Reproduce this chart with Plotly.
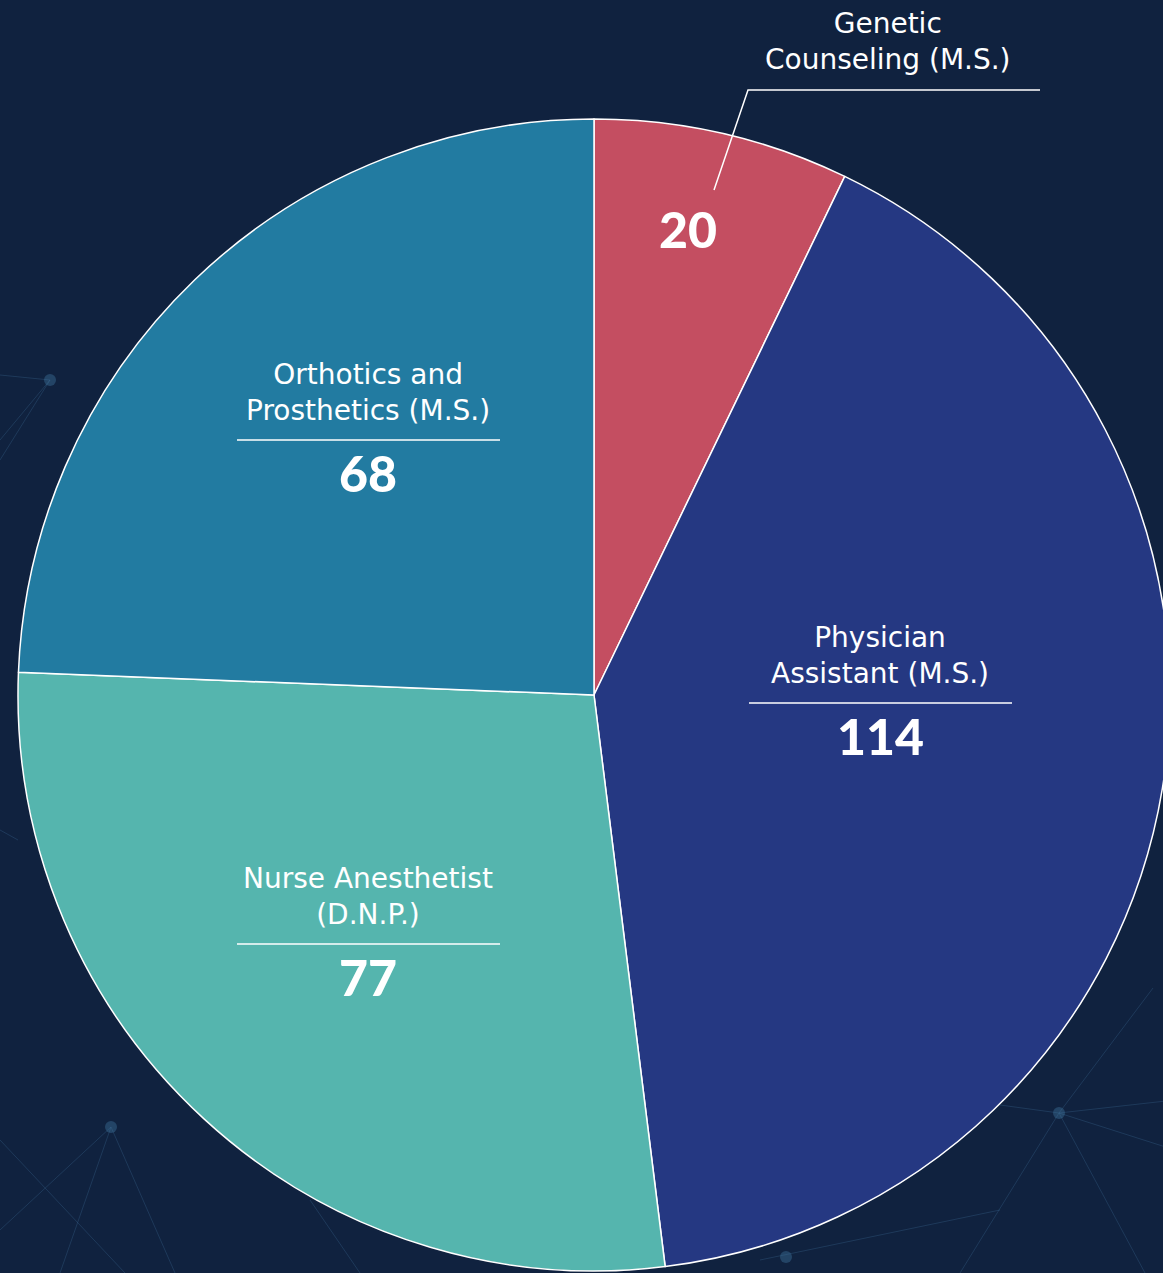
import plotly.graph_objects as go

# ---- data ----
programs = ["Genetic Counseling (M.S.)", "Physician Assistant (M.S.)",
            "Nurse Anesthetist (D.N.P.)", "Orthotics and Prosthetics (M.S.)"]
label_lines = ["Genetic<br>Counseling (M.S.)", "Physician<br>Assistant (M.S.)",
               "Nurse Anesthetist<br>(D.N.P.)", "Orthotics and<br>Prosthetics (M.S.)"]
enrollment = [20, 114, 77, 68]
colors = ["#c44e61", "#253882", "#55b5ae", "#227ba1"]

W, H = 1175, 1273
BG = "#10223f"


def px(x):
    return x / W


def py(y):
    return 1 - y / H


cx, cy, R = 594, 695, 576

fig = go.Figure(go.Pie(
    labels=programs,
    values=enrollment,
    sort=False,
    direction="clockwise",
    rotation=0,
    marker=dict(colors=colors, line=dict(color="white", width=1.5)),
    textinfo="none",
    hoverinfo="label+value",
    showlegend=False,
    domain=dict(x=[px(cx - R), px(cx + R)], y=[py(cy + R), py(cy - R)]),
))

label_font = dict(family="DejaVu Sans, Verdana, sans-serif", size=28, color="white")
num_font = dict(family="Lato, Roboto, sans-serif", size=50, color="white", weight=900)

annotations = []
shapes = []

# faint background network decoration
net_col = "rgba(70,120,160,0.28)"
net_segments = [
    ((1059, 1113), (1153, 988)), ((1059, 1113), (1175, 1100)), ((1059, 1113), (1175, 1150)),
    ((1059, 1113), (960, 1273)), ((1059, 1113), (1145, 1273)), ((1059, 1113), (1000, 1105)),
    ((111, 1127), (60, 1273)), ((111, 1127), (175, 1273)), ((111, 1127), (0, 1230)),
    ((0, 1140), (125, 1273)), ((50, 380), (0, 375)), ((50, 380), (0, 440)), ((50, 380), (0, 460)),
    ((0, 830), (18, 840)), ((310, 1200), (360, 1273)), ((760, 1260), (1000, 1210)),
]
for (x0, y0), (x1, y1) in net_segments:
    shapes.append(dict(type="line", xref="paper", yref="paper", layer="below",
                       x0=px(x0), y0=py(y0), x1=px(x1), y1=py(y1), line=dict(color=net_col, width=1)))
for (nx, ny) in [(1059, 1113), (111, 1127), (50, 380), (786, 1257)]:
    shapes.append(dict(type="circle", xref="paper", yref="paper", layer="below",
                       x0=px(nx - 6), x1=px(nx + 6), y0=py(ny + 6), y1=py(ny - 6),
                       fillcolor="rgba(60,110,150,0.45)", line=dict(width=0)))

# label layout (text centre x, text centre y, separator y, number y)
label_pos = [None, (880, 655, 703, 736), (368, 896, 944, 977), (368, 393, 440, 473)]

for i, pos in enumerate(label_pos):
    if pos is None:
        continue
    x, ty, sy, ny = pos
    annotations.append(dict(x=px(x), y=py(ty), xref="paper", yref="paper", text=label_lines[i],
                            showarrow=False, font=label_font, xanchor="center", yanchor="middle", align="center"))
    shapes.append(dict(type="line", xref="paper", yref="paper", x0=px(x - 131), x1=px(x + 132),
                       y0=py(sy), y1=py(sy), line=dict(color="white", width=1.5)))
    annotations.append(dict(x=px(x), y=py(ny), xref="paper", yref="paper", text=str(enrollment[i]),
                            showarrow=False, font=num_font, xanchor="center", yanchor="middle"))

# Genetic counseling: outside label with leader line
annotations.append(dict(x=px(888), y=py(42), xref="paper", yref="paper", text=label_lines[0],
                        showarrow=False, font=label_font, xanchor="center", yanchor="middle", align="center"))
annotations.append(dict(x=px(688), y=py(229), xref="paper", yref="paper", text=str(enrollment[0]),
                        showarrow=False, font=num_font, xanchor="center", yanchor="middle"))
shapes.append(dict(type="path", xref="paper", yref="paper",
                   path=f"M {px(1040)} {py(90)} L {px(748)} {py(90)} L {px(714)} {py(190)}",
                   line=dict(color="white", width=1.5)))

fig.update_layout(
    width=W, height=H,
    margin=dict(l=0, r=0, t=0, b=0),
    paper_bgcolor=BG,
    plot_bgcolor=BG,
    annotations=annotations,
    shapes=shapes,
)

fig.write_html("out.html", config={"displayModeBar": False},
               post_script="document.body.style.margin='0';document.body.style.overflow='hidden';")
